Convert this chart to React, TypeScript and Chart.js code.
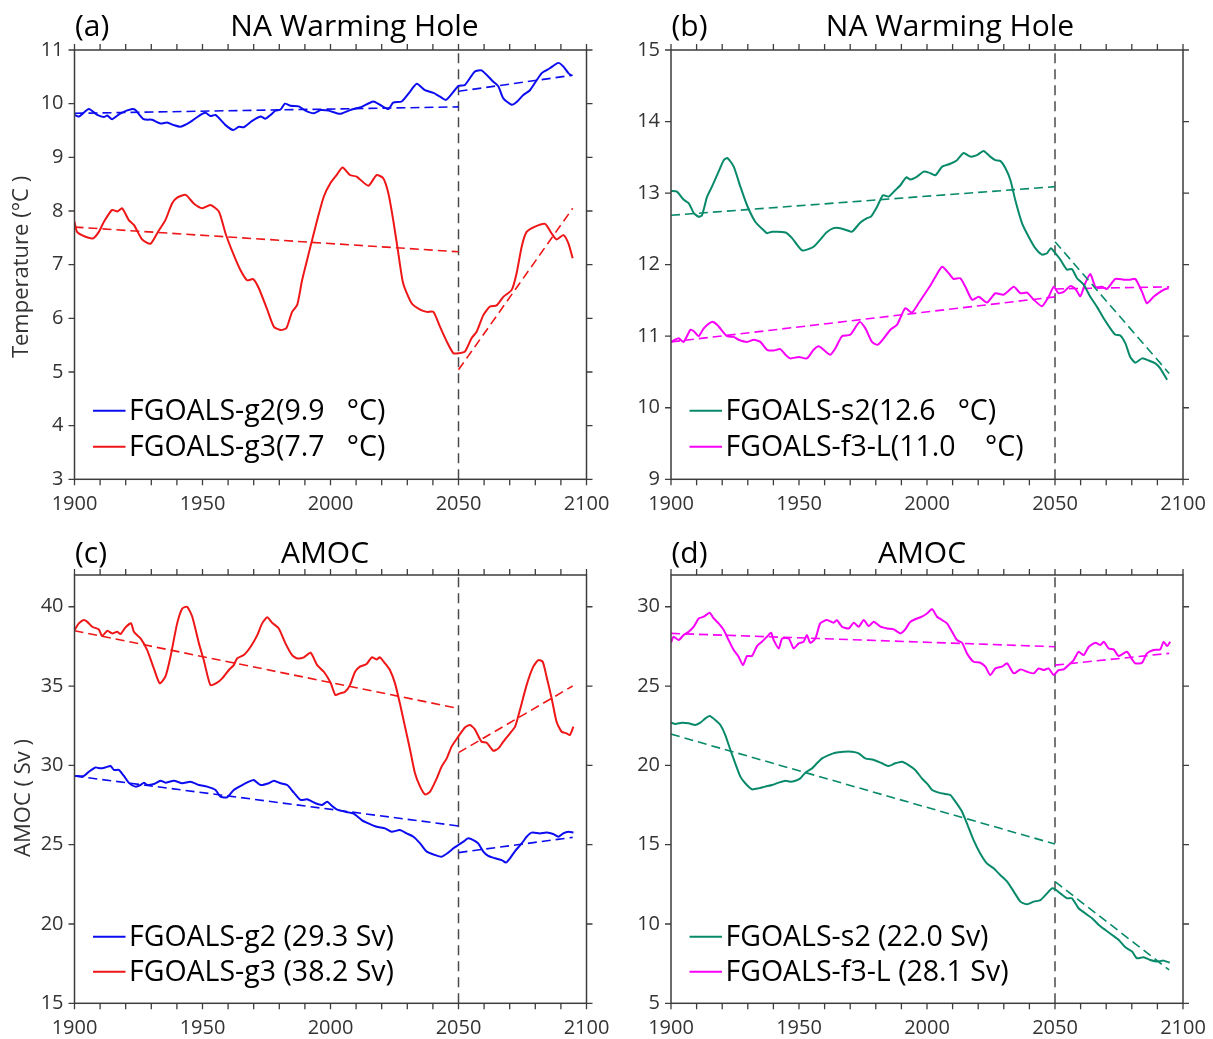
import React, { useEffect, useRef } from "react";
import { Chart, registerables } from "chart.js";

Chart.register(...registerables);

// ---------------- DATA ----------------
// trend-line segments (historical / projection)
const trendYearsHist = [1900, 2050];
const trendYearsProj = [2050, 2094.6];
const splitYear = 2050;

// Panel (a): NA Warming Hole temperature (°C)
const yearsA_g2 = [1900, 1901.7, 1905.6, 1908.9, 1911.5, 1912.8, 1914.7, 1918, 1922.5, 1923.8,
  1927, 1930.3, 1933.6, 1936.2, 1938.8, 1941.4, 1945.3, 1949.2, 1951.2, 1953.1,
  1955.1, 1959, 1962, 1964.2, 1966.1, 1969.4, 1972.7, 1974.6, 1976.6, 1978.5,
  1980.5, 1982.2, 1984.4, 1987.6, 1990.2, 1993.5, 1996.1, 1999.3, 2003.7, 2007.6,
  2010.5, 2012.2, 2016.7, 2019.3, 2022.6, 2024.5, 2027.8, 2031, 2033.7, 2036.9,
  2040.2, 2042.8, 2045.1, 2048, 2050, 2052.5, 2056.4, 2059, 2063.6, 2065.6,
  2067.5, 2070.8, 2072.7, 2075.3, 2077.9, 2082.5, 2085.7, 2089, 2091, 2092.9,
  2094.2];
const tempA_g2 = [9.79, 9.76, 9.90, 9.79, 9.75, 9.78, 9.71, 9.82, 9.90, 9.88,
  9.71, 9.70, 9.63, 9.65, 9.60, 9.57, 9.66, 9.79, 9.83, 9.77,
  9.79, 9.60, 9.51, 9.57, 9.56, 9.68, 9.76, 9.72, 9.79, 9.87,
  9.89, 10.00, 9.96, 9.95, 9.87, 9.82, 9.88, 9.87, 9.81, 9.88,
  9.92, 9.94, 10.04, 9.98, 9.90, 10.02, 10.04, 10.22, 10.37, 10.25,
  10.20, 10.13, 10.07, 10.22, 10.33, 10.35, 10.60, 10.62, 10.41, 10.32,
  10.10, 9.98, 10.03, 10.16, 10.25, 10.57, 10.66, 10.76, 10.69, 10.57,
  10.52];
const trendA_g2_hist = [9.82, 9.94];
const trendA_g2_proj = [10.23, 10.53];

const yearsA_g3 = [1900, 1901, 1904.3, 1907.3, 1909.5, 1911.5, 1914.7, 1916.7, 1918.6, 1921.2,
  1923.2, 1926.4, 1929.7, 1932.6, 1935.5, 1938.1, 1940.1, 1943.4, 1946.6, 1949.9,
  1953.1, 1956.4, 1959, 1962.2, 1964.8, 1967.4, 1969.8, 1972, 1975.3, 1977.9,
  1980.7, 1982.8, 1985, 1987, 1988.9, 1991.5, 1994.8, 1997.4, 2000, 2002.4,
  2004.7, 2007.6, 2010.2, 2014.8, 2018, 2020.6, 2022.6, 2024.5, 2026.5, 2028.4,
  2031.7, 2035, 2037.6, 2040.2, 2042.8, 2045.4, 2048, 2050, 2052.5, 2055.1,
  2057.1, 2059.7, 2062.3, 2064.9, 2067.5, 2070.8, 2072.7, 2074.7, 2076.6, 2079.9,
  2083.8, 2086.4, 2088.3, 2091, 2092.9, 2094.6];
const tempA_g3 = [7.80, 7.61, 7.52, 7.49, 7.61, 7.80, 8.02, 7.99, 8.05, 7.83,
  7.74, 7.47, 7.39, 7.61, 7.83, 8.14, 8.25, 8.30, 8.14, 8.05,
  8.11, 7.99, 7.58, 7.18, 6.90, 6.71, 6.73, 6.56, 6.16, 5.84,
  5.78, 5.82, 6.12, 6.25, 6.71, 7.21, 7.83, 8.27, 8.52, 8.67,
  8.81, 8.67, 8.64, 8.47, 8.67, 8.61, 8.33, 7.83, 7.21, 6.65,
  6.28, 6.16, 6.12, 6.12, 5.84, 5.57, 5.35, 5.35, 5.38, 5.63,
  5.75, 6.06, 6.22, 6.24, 6.40, 6.53, 6.84, 7.34, 7.61, 7.71,
  7.76, 7.58, 7.47, 7.55, 7.40, 7.12];
const trendA_g3_hist = [7.70, 7.24];
const trendA_g3_proj = [5.04, 8.05];

// Panel (b): NA Warming Hole temperature (°C)
const yearsB_s2 = [1900, 1902.3, 1904.9, 1906.9, 1908.9, 1910.8, 1912.1, 1914.1, 1916, 1918.6,
  1920.6, 1922.1, 1924.5, 1927.1, 1929.7, 1932.9, 1936.2, 1937.5, 1939.5, 1944.7,
  1947.3, 1949.2, 1951.2, 1953.1, 1955.7, 1958.3, 1960.7, 1963.5, 1966.1, 1968.8,
  1970.7, 1974, 1976.6, 1978.1, 1980.5, 1982.8, 1985, 1987.6, 1989.6, 1991.9,
  1993.5, 1996.1, 1998.7, 2000.5, 2003.3, 2005.9, 2009.1, 2011.7, 2014.3, 2016.9,
  2019.5, 2022.1, 2024.7, 2026.7, 2028.6, 2030.6, 2032.6, 2034.5, 2037.1, 2039.7,
  2042.3, 2044.9, 2046.9, 2048.4, 2050.1, 2052.1, 2054.7, 2056.6, 2058.6, 2061.2,
  2063.8, 2066.4, 2069, 2071.6, 2073.6, 2075.5, 2077.5, 2079.4, 2081.4, 2084,
  2086.6, 2089.2, 2091.1, 2093.8];
const tempB_s2 = [13.03, 13.02, 12.91, 12.86, 12.72, 12.67, 12.69, 12.95, 13.09, 13.30,
  13.46, 13.49, 13.37, 13.09, 12.83, 12.60, 12.48, 12.44, 12.46, 12.45,
  12.37, 12.28, 12.20, 12.21, 12.25, 12.35, 12.45, 12.51, 12.51, 12.48,
  12.46, 12.59, 12.65, 12.67, 12.81, 12.97, 12.95, 13.04, 13.11, 13.22,
  13.19, 13.23, 13.30, 13.29, 13.25, 13.37, 13.41, 13.46, 13.56, 13.51,
  13.53, 13.59, 13.51, 13.46, 13.45, 13.35, 13.18, 12.90, 12.58, 12.39,
  12.23, 12.14, 12.16, 12.23, 12.16, 12.07, 11.93, 11.94, 11.81, 11.72,
  11.55, 11.41, 11.25, 11.11, 11.02, 11.01, 10.90, 10.71, 10.63, 10.69,
  10.66, 10.62, 10.55, 10.39];
const trendB_s2_hist = [12.69, 13.09];
const trendB_s2_proj = [12.32, 10.48];

const yearsB_f3 = [1900, 1903, 1904.9, 1907.6, 1908.9, 1910.8, 1912.8, 1916, 1918, 1921.9,
  1924.5, 1926.4, 1929.7, 1932.3, 1934.9, 1937.5, 1940.1, 1942.7, 1944.7, 1946.6,
  1949.9, 1953.1, 1955.7, 1957.7, 1959.6, 1962.2, 1964.2, 1966.8, 1970, 1973.7,
  1975.9, 1978.5, 1980.7, 1983.1, 1985.7, 1988.3, 1991.5, 1994.1, 1996.7, 1999.3,
  2001, 2003.3, 2005.9, 2008.5, 2010.4, 2013, 2015, 2017.6, 2020.2, 2023.4,
  2026.7, 2029.9, 2033.9, 2036.5, 2039.1, 2041.7, 2044.9, 2047.5, 2049.5, 2051.4,
  2053.4, 2056, 2058, 2059.9, 2061.8, 2063.8, 2065.8, 2068.4, 2070.3, 2073.6,
  2076.8, 2079.4, 2081.4, 2084, 2085.9, 2088.5, 2091.1, 2093.1, 2094.4];
const tempB_f3 = [10.92, 10.97, 10.92, 11.09, 11.07, 11.00, 11.11, 11.20, 11.16, 11.00,
  10.99, 10.95, 10.92, 10.95, 10.92, 10.81, 10.80, 10.82, 10.74, 10.69,
  10.71, 10.69, 10.81, 10.86, 10.81, 10.74, 10.83, 11.00, 11.02, 11.20,
  11.11, 10.92, 10.88, 10.97, 11.09, 11.16, 11.39, 11.33, 11.46, 11.60,
  11.69, 11.83, 11.97, 11.88, 11.80, 11.81, 11.69, 11.51, 11.55, 11.47,
  11.60, 11.58, 11.69, 11.60, 11.61, 11.51, 11.42, 11.55, 11.69, 11.60,
  11.62, 11.70, 11.66, 11.56, 11.74, 11.87, 11.69, 11.69, 11.66, 11.80,
  11.79, 11.79, 11.80, 11.62, 11.46, 11.55, 11.62, 11.66, 11.67];
const trendB_f3_hist = [10.92, 11.55];
const trendB_f3_proj = [11.66, 11.69];

// Panel (c): AMOC (Sv)
const yearsC_g2 = [1900, 1903.6, 1905.6, 1908.2, 1910.2, 1912.1, 1914.1, 1915.4, 1917.3, 1919.3,
  1921.2, 1923.8, 1925.8, 1927.1, 1928.4, 1931, 1933.6, 1935.5, 1938.8, 1942.1,
  1945.3, 1948.6, 1951.8, 1955.1, 1957, 1959.6, 1962.2, 1965.5, 1968.1, 1970,
  1972.7, 1975.9, 1977.9, 1980.5, 1983.1, 1985.7, 1988.3, 1990.9, 1994.1, 1996.7,
  1998.7, 2000.5, 2002.4, 2005.7, 2008.9, 2012.2, 2014.8, 2018, 2021.3, 2023.9,
  2027.1, 2029.7, 2032.4, 2035, 2037.6, 2040.8, 2043.4, 2046, 2048, 2049.9,
  2051.9, 2053.8, 2055.8, 2057.7, 2059.7, 2061.6, 2064.3, 2066.9, 2068.5, 2070.1,
  2072.1, 2074.7, 2076.6, 2078.6, 2081.8, 2084.4, 2087, 2089, 2090.9, 2092.9,
  2094.9];
const amocC_g2 = [29.33, 29.33, 29.60, 29.87, 29.81, 29.87, 29.96, 29.71, 29.71, 29.33,
  28.91, 28.66, 28.76, 28.91, 28.76, 28.82, 29.03, 28.91, 29.03, 28.87,
  28.97, 28.76, 28.66, 28.45, 28.03, 27.98, 28.45, 28.76, 28.97, 29.08,
  28.76, 28.87, 29.03, 28.87, 28.76, 28.28, 27.82, 27.86, 27.61, 27.50,
  27.71, 27.45, 27.23, 27.08, 26.97, 26.55, 26.34, 26.13, 26.03, 25.82,
  25.92, 25.71, 25.50, 25.08, 24.56, 24.35, 24.24, 24.50, 24.77, 24.98,
  25.19, 25.40, 25.29, 25.08, 24.56, 24.29, 24.14, 24.03, 23.87, 24.14,
  24.60, 25.08, 25.50, 25.76, 25.71, 25.76, 25.67, 25.50, 25.71, 25.82,
  25.76];
const trendC_g2_hist = [29.33, 26.18];
const trendC_g2_proj = [24.50, 25.46];

const yearsC_g3 = [1900, 1901.7, 1903.6, 1904.9, 1906.9, 1909.5, 1910.8, 1912.8, 1914.7, 1916.7,
  1918, 1919.9, 1922.1, 1923.2, 1925.8, 1928.4, 1931, 1933.3, 1935.5, 1937.5,
  1940.1, 1942.1, 1944, 1946, 1948.6, 1950.5, 1953.1, 1955.7, 1957.7, 1960.3,
  1962.2, 1963.5, 1966.1, 1968.8, 1971.4, 1973.3, 1975.3, 1977.2, 1979.8, 1982.4,
  1985, 1987, 1989.6, 1992.2, 1994.8, 1997.4, 2000, 2001.9, 2003.7, 2005.7,
  2007.6, 2009.6, 2011.5, 2014.1, 2016.1, 2018, 2019.3, 2021.3, 2023.2, 2025.2,
  2027.1, 2029.1, 2031.1, 2033, 2035, 2036.9, 2038.9, 2041.5, 2043.4, 2045.4,
  2047.3, 2049.9, 2052.5, 2054.5, 2056.4, 2059, 2061, 2063.6, 2065.6, 2067.5,
  2070.1, 2072.1, 2074, 2076.6, 2079.2, 2081.2, 2082.9, 2084.4, 2086.4, 2088.3,
  2090.3, 2092.2, 2093.5, 2094.9];
const amocC_g3 = [38.53, 38.95, 39.16, 39.06, 38.74, 38.57, 38.15, 38.49, 38.32, 38.42,
  38.28, 38.70, 38.95, 38.42, 38.00, 37.27, 36.11, 35.17, 35.59, 36.85,
  38.95, 39.89, 40.00, 39.37, 37.69, 36.64, 35.06, 35.21, 35.48, 36.01,
  36.32, 36.74, 36.95, 37.48, 38.21, 38.95, 39.33, 38.99, 38.63, 37.69,
  36.95, 36.74, 36.81, 37.10, 36.32, 35.90, 35.22, 34.43, 34.54, 34.64,
  35.06, 35.90, 36.22, 36.39, 36.81, 36.68, 36.81, 36.43, 36.01, 35.17,
  33.91, 32.44, 30.97, 29.50, 28.66, 28.17, 28.34, 29.18, 29.92, 30.44,
  31.18, 31.81, 32.39, 32.54, 32.27, 31.49, 31.43, 30.92, 31.07, 31.49,
  32.02, 32.44, 33.49, 35.06, 36.22, 36.64, 36.53, 35.59, 34.22, 32.75,
  32.12, 32.02, 31.91, 32.44];
const trendC_g3_hist = [38.49, 33.59];
const trendC_g3_proj = [30.80, 35.0];

// Panel (d): AMOC (Sv)
const yearsD_s2 = [1900, 1901.7, 1904.3, 1906.9, 1909.5, 1911.5, 1913.4, 1915.1, 1917.3, 1919.3,
  1921.2, 1923.2, 1925.1, 1927.1, 1929, 1931.6, 1934.2, 1936.8, 1939.5, 1942.1,
  1944.7, 1946.6, 1948.6, 1950.5, 1952.5, 1955.1, 1957, 1959, 1961.6, 1964.2,
  1967.4, 1970.7, 1973.3, 1975.9, 1979.2, 1982.4, 1985, 1987.6, 1990.2, 1992.8,
  1995.4, 1998, 2000.3, 2002, 2004.6, 2007.2, 2009.1, 2011.1, 2013.7, 2015.6,
  2018.2, 2020.8, 2023.4, 2026, 2028.6, 2031.3, 2033.9, 2036.5, 2039.1, 2041.7,
  2044.3, 2046.9, 2048.8, 2050.1, 2052.1, 2054.7, 2056.6, 2059.2, 2061.8, 2064.5,
  2067.1, 2069.7, 2072.3, 2074.9, 2077.5, 2080.1, 2082, 2084.6, 2087.2, 2089.8,
  2092.4, 2094.8];
const amocD_s2 = [22.69, 22.61, 22.69, 22.65, 22.54, 22.69, 22.96, 23.11, 22.86, 22.54,
  21.91, 20.97, 20.13, 19.29, 18.87, 18.49, 18.55, 18.66, 18.76, 18.91,
  19.03, 18.97, 19.03, 19.18, 19.54, 19.81, 20.13, 20.44, 20.65, 20.80,
  20.86, 20.86, 20.76, 20.44, 20.34, 20.13, 19.96, 20.13, 20.23, 20.02,
  19.71, 19.18, 18.80, 18.45, 18.28, 18.19, 18.13, 17.71, 17.08, 16.34,
  15.29, 14.45, 13.82, 13.51, 13.09, 12.67, 12.04, 11.41, 11.24, 11.41,
  11.51, 11.93, 12.25, 12.18, 11.93, 11.62, 11.62, 10.99, 10.67, 10.36,
  9.94, 9.62, 9.31, 8.99, 8.53, 8.26, 7.84, 7.90, 7.73, 7.63,
  7.69, 7.56];
const trendD_s2_hist = [21.97, 15.04];
const trendD_s2_proj = [12.67, 7.10];

const yearsD_f3 = [1900, 1901, 1903, 1904.9, 1906.9, 1908.9, 1910.8, 1912.8, 1915.1, 1916.7,
  1918.6, 1920.6, 1922.5, 1924.5, 1926.4, 1928.1, 1929.7, 1931.6, 1933.6, 1935.5,
  1937.5, 1939.1, 1940.1, 1942.1, 1943.4, 1946, 1947.9, 1949.9, 1951.8, 1953.1,
  1954.4, 1956.4, 1958.3, 1960.9, 1963.5, 1964.8, 1966.8, 1969.4, 1971.4, 1973.3,
  1975.3, 1977.2, 1979.2, 1981.8, 1984.4, 1987, 1989.6, 1991.5, 1993.5, 1996.1,
  1998, 2000, 2002, 2003.9, 2005.9, 2007.8, 2009.8, 2011.7, 2013.7, 2015.6,
  2018.2, 2020.8, 2022.8, 2024.7, 2026.7, 2029.3, 2031.3, 2033.9, 2036.5, 2039.1,
  2041.7, 2043.6, 2045.6, 2047.5, 2049.5, 2051.4, 2053.4, 2055.3, 2057.3, 2059.2,
  2061.2, 2063.2, 2065.8, 2067.7, 2069, 2071, 2072.9, 2074.9, 2078.1, 2080.1,
  2081.4, 2084, 2085.9, 2088.5, 2091.1, 2092.4, 2093.8, 2095];
const amocD_f3 = [27.73, 28.11, 27.90, 28.21, 28.42, 28.74, 29.26, 29.37, 29.62, 29.26,
  28.95, 28.53, 27.90, 27.27, 26.85, 26.32, 26.89, 26.89, 27.52, 27.79,
  28.11, 28.36, 27.90, 27.37, 28.00, 28.00, 27.37, 27.69, 27.79, 28.21,
  27.73, 28.00, 28.95, 29.16, 28.99, 29.16, 28.74, 28.63, 28.99, 28.74,
  29.16, 28.78, 29.05, 28.74, 28.63, 28.57, 28.32, 28.57, 29.05, 29.26,
  29.37, 29.57, 29.85, 29.37, 29.16, 28.95, 28.42, 27.90, 27.73, 27.06,
  26.53, 26.47, 26.22, 25.69, 26.11, 26.22, 26.43, 25.80, 26.05, 25.90,
  25.80, 26.11, 26.01, 26.11, 25.69, 26.01, 26.05, 26.32, 26.64, 27.16,
  26.95, 27.48, 27.73, 27.58, 27.79, 27.37, 27.31, 26.89, 27.16, 26.68,
  26.43, 26.47, 27.06, 27.27, 27.31, 27.79, 27.52, 27.79];
const trendD_f3_hist = [28.32, 27.48];
const trendD_f3_proj = [26.32, 27.06];

// ---------------- STYLE ----------------
const FONT = '"Open Sans", "Noto Sans", "DejaVu Sans", sans-serif';
const BLUE = "rgb(12,12,240)";
const RED = "rgb(238,22,22)";
const GREEN = "rgb(8,138,106)";
const MAGENTA = "rgb(248,0,248)";
const AXIS = "#3d3d3d";

type Series = {
  label: string;
  color: string;
  years: number[];
  values: number[];
  hist: number[];
  proj: number[];
};

type Panel = {
  tag: string;
  title: string;
  yMin: number;
  yMax: number;
  yStep: number;
  yTitle?: string;
  yTitleX?: number;
  yTitleY?: number;
  left: number;
  top: number;
  w: number;
  h: number;
  yWidth: number;
  padTop: number;
  padRight: number;
  xHeight: number;
  titleCx: number;
  titleBase: number;
  legendDy: number[];
  series: Series[];
};

const panels: Panel[] = [
  {
    tag: "(a)", title: "NA Warming Hole", yMin: 3, yMax: 11, yStep: 1,
    yTitle: "Temperature (°C )", yTitleX: 22, yTitleY: 267,
    left: 0, top: 0, w: 614, h: 525, yWidth: 74.5, padTop: 50, padRight: 27.5, xHeight: 45.7,
    titleCx: 280, titleBase: -14.5, legendDy: [-68.5, -32.5],
    series: [
      { label: "FGOALS-g2(9.9   °C)", color: BLUE, years: yearsA_g2, values: tempA_g2, hist: trendA_g2_hist, proj: trendA_g2_proj },
      { label: "FGOALS-g3(7.7   °C)", color: RED, years: yearsA_g3, values: tempA_g3, hist: trendA_g3_hist, proj: trendA_g3_proj },
    ],
  },
  {
    tag: "(b)", title: "NA Warming Hole", yMin: 9, yMax: 15, yStep: 1,
    left: 606, top: 0, w: 607, h: 525, yWidth: 65, padTop: 50, padRight: 30, xHeight: 45.7,
    titleCx: 279, titleBase: -14.5, legendDy: [-68.5, -32.5],
    series: [
      { label: "FGOALS-s2(12.6   °C)", color: GREEN, years: yearsB_s2, values: tempB_s2, hist: trendB_s2_hist, proj: trendB_s2_proj },
      { label: "FGOALS-f3-L(11.0    °C)", color: MAGENTA, years: yearsB_f3, values: tempB_f3, hist: trendB_f3_hist, proj: trendB_f3_proj },
    ],
  },
  {
    tag: "(c)", title: "AMOC", yMin: 15, yMax: 42, yStep: 5,
    yTitle: "AMOC ( Sv )", yTitleX: 24, yTitleY: 273,
    left: 0, top: 525, w: 614, h: 514, yWidth: 74.5, padTop: 50, padRight: 27.5, xHeight: 35.7,
    titleCx: 250.5, titleBase: -12, legendDy: [-66.5, -31.5],
    series: [
      { label: "FGOALS-g2 (29.3 Sv)", color: BLUE, years: yearsC_g2, values: amocC_g2, hist: trendC_g2_hist, proj: trendC_g2_proj },
      { label: "FGOALS-g3 (38.2 Sv)", color: RED, years: yearsC_g3, values: amocC_g3, hist: trendC_g3_hist, proj: trendC_g3_proj },
    ],
  },
  {
    tag: "(d)", title: "AMOC", yMin: 5, yMax: 32, yStep: 5,
    left: 606, top: 525, w: 607, h: 514, yWidth: 65, padTop: 50, padRight: 30, xHeight: 35.7,
    titleCx: 251, titleBase: -12, legendDy: [-66.5, -31.5],
    series: [
      { label: "FGOALS-s2 (22.0 Sv)", color: GREEN, years: yearsD_s2, values: amocD_s2, hist: trendD_s2_hist, proj: trendD_s2_proj },
      { label: "FGOALS-f3-L (28.1 Sv)", color: MAGENTA, years: yearsD_f3, values: amocD_f3, hist: trendD_f3_hist, proj: trendD_f3_proj },
    ],
  },
];

function pts(xs: number[], ys: number[]) {
  return xs.map((x, i) => ({ x, y: ys[i] }));
}

function isMajor(v: number, step: number) {
  const r = Math.abs(v / step - Math.round(v / step));
  return r < 1e-6;
}

function makeDeco(p: Panel) {
  return {
    id: "deco",
    afterDraw(chart: any) {
      const ctx: CanvasRenderingContext2D = chart.ctx;
      const a = chart.chartArea;
      const xs = chart.scales.x;
      const ys = chart.scales.y;
      ctx.save();
      // frame
      ctx.strokeStyle = AXIS;
      ctx.lineWidth = 1.5;
      ctx.strokeRect(a.left, a.top, a.right - a.left, a.bottom - a.top);
      // ticks (outward)
      ctx.lineWidth = 1.3;
      ctx.beginPath();
      for (let yr = 1900; yr <= 2100; yr += 10) {
        const px = xs.getPixelForValue(yr);
        ctx.moveTo(px, a.bottom);
        ctx.lineTo(px, a.bottom + 6);
        ctx.moveTo(px, a.top);
        ctx.lineTo(px, a.top - 6);
      }
      for (const t of ys.ticks) {
        if (!isMajor(t.value, p.yStep)) continue;
        const py = ys.getPixelForValue(t.value);
        ctx.moveTo(a.left - 6, py);
        ctx.lineTo(a.left, py);
        ctx.moveTo(a.right, py);
        ctx.lineTo(a.right + 6, py);
      }
      ctx.stroke();

      // titles
      ctx.fillStyle = "#000";
      ctx.font = `30px ${FONT}`;
      ctx.textBaseline = "alphabetic";
      ctx.textAlign = "left";
      ctx.fillText(p.tag, a.left + 0.5, a.top + p.titleBase);
      ctx.textAlign = "center";
      ctx.fillText(p.title, a.left + p.titleCx, a.top + p.titleBase);

      // y-axis title
      if (p.yTitle) {
        ctx.save();
        ctx.translate(p.yTitleX as number, p.yTitleY as number);
        ctx.rotate(-Math.PI / 2);
        ctx.fillStyle = "#333";
        ctx.font = `22px ${FONT}`;
        ctx.textAlign = "center";
        ctx.textBaseline = "middle";
        ctx.fillText(p.yTitle, 0, 0);
        ctx.restore();
      }

      // legend
      ctx.font = `28.5px ${FONT}`;
      ctx.textAlign = "left";
      ctx.textBaseline = "middle";
      p.series.forEach((s, i) => {
        const y = a.bottom + p.legendDy[i];
        ctx.strokeStyle = s.color;
        ctx.lineWidth = 2;
        ctx.setLineDash([]);
        ctx.beginPath();
        ctx.moveTo(a.left + 18.5, y);
        ctx.lineTo(a.left + 51, y);
        ctx.stroke();
        ctx.fillStyle = "#000";
        ctx.fillText(s.label, a.left + 54.5, y + 1);
      });
      ctx.restore();
    },
  };
}

function buildConfig(p: Panel): any {
  const datasets: any[] = [];
  p.series.forEach((s) => {
    datasets.push({
      data: pts(s.years, s.values),
      borderColor: s.color,
      borderWidth: 2,
      pointRadius: 0,
      tension: 0.2,
      fill: false,
    });
    datasets.push({
      data: pts(trendYearsHist, s.hist),
      borderColor: s.color,
      borderWidth: 1.6,
      borderDash: [9, 5],
      pointRadius: 0,
      fill: false,
    });
    datasets.push({
      data: pts(trendYearsProj, s.proj),
      borderColor: s.color,
      borderWidth: 1.6,
      borderDash: [9, 5],
      pointRadius: 0,
      fill: false,
    });
  });
  datasets.push({
    data: pts([splitYear, splitYear], [p.yMin, p.yMax]),
    borderColor: "#4a4a4a",
    borderWidth: 1.5,
    borderDash: [10, 6],
    pointRadius: 0,
    fill: false,
  });

  return {
    type: "line",
    data: { datasets },
    options: {
      animation: false,
      responsive: false,
      devicePixelRatio: 1,
      events: [],
      layout: { padding: { top: p.padTop, right: p.padRight, left: 0, bottom: 0 } },
      plugins: { legend: { display: false }, tooltip: { enabled: false }, title: { display: false } },
      scales: {
        x: {
          type: "linear",
          min: 1900,
          max: 2100,
          grid: { display: false, drawTicks: false },
          border: { display: false },
          ticks: {
            stepSize: 50,
            autoSkip: false,
            maxRotation: 0,
            padding: 13,
            color: "#333",
            font: { family: FONT, size: 20 },
            callback: (v: number) => String(v),
          },
          afterFit: (s: any) => {
            s.height = p.xHeight;
            s.paddingLeft = 0;
            s.paddingRight = 0;
          },
        },
        y: {
          type: "linear",
          min: p.yMin,
          max: p.yMax,
          grid: { display: false, drawTicks: false },
          border: { display: false },
          ticks: {
            stepSize: p.yStep,
            autoSkip: false,
            padding: 11,
            color: "#333",
            font: { family: FONT, size: 20 },
            callback: (v: number) => (isMajor(v, p.yStep) ? String(v) : ""),
          },
          afterFit: (s: any) => {
            s.width = p.yWidth;
            s.paddingTop = 0;
            s.paddingBottom = 0;
          },
        },
      },
    },
    plugins: [makeDeco(p)],
  };
}

function PanelChart({ p }: { p: Panel }) {
  const ref = useRef<HTMLCanvasElement | null>(null);
  useEffect(() => {
    if (!ref.current) return;
    const chart = new Chart(ref.current, buildConfig(p));
    return () => chart.destroy();
  }, [p]);
  return (
    <canvas
      ref={ref}
      width={p.w}
      height={p.h}
      style={{ position: "absolute", left: p.left, top: p.top, width: p.w, height: p.h }}
    />
  );
}

export default function App() {
  return (
    <div
      style={{
        position: "absolute",
        left: 0,
        top: 0,
        width: 1213,
        height: 1039,
        background: "#fff",
        overflow: "hidden",
      }}
    >
      {panels.map((p) => (
        <PanelChart key={p.tag} p={p} />
      ))}
    </div>
  );
}
